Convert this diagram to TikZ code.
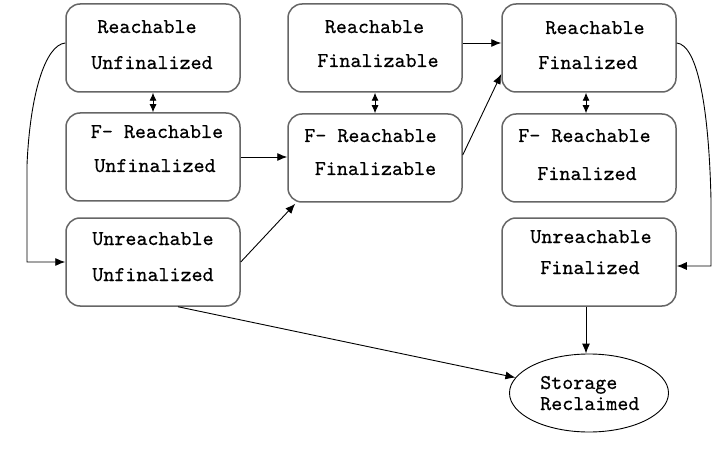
\documentclass[tikz,border=0pt]{standalone}
\usepackage{fontspec}
\newfontfamily\boxfont{lmmono10-regular.otf}[FakeBold=0.4]
\usetikzlibrary{arrows.meta,shapes.geometric}
\definecolor{boxgray}{HTML}{666666}
\tikzset{
  statebox/.style={draw=boxgray, line width=1.5pt, rounded corners=14pt,
    minimum width=174pt, minimum height=88pt, inner sep=0pt},
  ln/.style={anchor=base, inner sep=0pt, font=\boxfont\fontsize{21}{21}\selectfont},
  conn/.style={draw=black, line width=0.9pt, -{Latex[length=10pt,width=8pt]}},
  dconn/.style={draw=black, line width=0.9pt, {Latex[length=8pt,width=7pt]}-{Latex[length=8pt,width=7pt]}},
}
\begin{document}
\begin{tikzpicture}[x=1pt,y=-1pt]
\useasboundingbox[fill=white] (0,0) rectangle (725,457);
\node[statebox] (ru) at (153,48) {};
\node[statebox] (fru) at (153,157) {};
\node[statebox] (uu) at (153,262) {};
\node[statebox] (rfa) at (375,48) {};
\node[statebox] (frfa) at (375,158) {};
\node[statebox] (rfe) at (589,48) {};
\node[statebox] (frfe) at (589,158) {};
\node[statebox] (ufe) at (589,262) {};
\node[draw=black, line width=0.9pt, ellipse, minimum width=159pt, minimum height=78pt,
  inner sep=0pt] (st) at (589,393) {};
% texts
\node[ln] (ru1) at (147,33) {Reachable};
\node[ln] (ru2) at (152,69) {Unfinalized};
\node[ln] (fru1) at (157,138) {F- Reachable};
\node[ln] (fru2) at (155,172) {Unfinalized};
\node[ln] (uu1) at (153,245) {Unreachable};
\node[ln] (uu2) at (153,281) {Unfinalized};
\node[ln] (rfa1) at (374.5,33) {Reachable};
\node[ln] (rfa2) at (378,67) {Finalizable};
\node[ln] (frfa1) at (370.5,142) {F- Reachable};
\node[ln] (frfa2) at (375.5,175) {Finalizable};
\node[ln] (rfe1) at (595,34) {Reachable};
\node[ln] (rfe2) at (588,69) {Finalized};
\node[ln] (frfe1) at (584.5,142) {F- Reachable};
\node[ln] (frfe2) at (587,180) {Finalized};
\node[ln] (ufe1) at (591,243) {Unreachable};
\node[ln] (ufe2) at (590,274) {Finalized};
\node[ln,anchor=base west] (st1) at (540,389) {Storage};
\node[ln,anchor=base west] (st2) at (540,410) {Reclaimed};
\coordinate (lc) at (27,165);
\coordinate (rc) at (711,200);
% vertical double arrows
\draw[dconn] (ru.south) -- (fru.north);
\draw[dconn] (rfa.south) -- (frfa.north);
\draw[dconn] ([xshift=-3pt]rfe.south) -- ([xshift=-3pt]frfe.north);
% horizontal/diagonal
\draw[conn] (fru.east) -- (frfa.west |- fru.east);
\draw[conn] (uu.east) -- ([xshift=8pt,yshift=-1pt]frfa.south west);
\draw[conn] ([yshift=5pt]rfa.east) -- ([yshift=5pt]rfe.west);
\draw[conn] ([yshift=3pt]frfa.east) -- ([yshift=-26pt]rfe.west);
% loops
\draw[conn] ([yshift=5pt]ru.west) .. controls (45,45) and (30,95) .. (lc) |- (uu.west);
\draw[conn] ([yshift=5pt]rfe.east) .. controls (698,45) and (709,110) .. (rc) |- ([yshift=-4pt]ufe.east);
% to storage
\draw[conn] ([xshift=25pt]uu.south) -- (st);
\draw[conn] ([xshift=-3pt]ufe.south) -- ([xshift=-3pt]st.north);
\end{tikzpicture}
\end{document}
